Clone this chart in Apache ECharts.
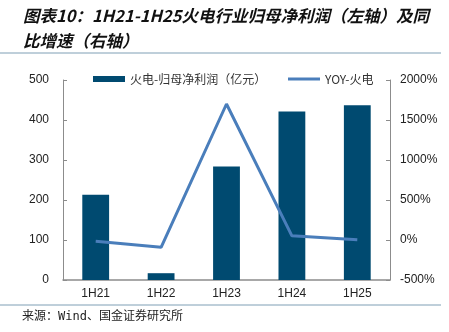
<!DOCTYPE html>
<html>
<head>
<meta charset="utf-8">
<script src="https://cdn.jsdelivr.net/npm/echarts@6/dist/echarts.min.js"></script>
<style>html,body{margin:0;padding:0;background:#fff;}#c{width:449px;height:332px;}</style>
</head>
<body>
<div id="c"></div>
<script>
const categories = ['1H21', '1H22', '1H23', '1H24', '1H25'];
const profitValues = [213, 17, 284, 421, 437];
const yoyValues = [-15, -92, 1700, 52, 4];
const leftTicks = [0, 100, 200, 300, 400, 500];
const rightTicks = [-500, 0, 500, 1000, 1500, 2000];
const seriesNames = ['火电-归母净利润（亿元）', 'YOY-火电'];
const titleLines = ['图表10：1H21-1H25火电行业归母净利润（左轴）及同', '比增速（右轴）'];
const sourceText = '来源：Wind、国金证券研究所';

const chart = echarts.init(document.getElementById('c'));
const cjk = '"Noto Sans CJK SC", sans-serif';
const axisColor = '#8c8c8c';
const legendText = { fontFamily: cjk, fontSize: 12, color: '#333' };
chart.setOption({
  animation: false,
  grid: { left: 63, right: 59, top: 80, bottom: 52 },
  legend: [
    {
      data: [{ name: seriesNames[0], icon: 'rect' }],
      left: 93, top: 73, padding: 0, itemWidth: 32, itemHeight: 6, itemGap: 4,
      textStyle: legendText
    },
    {
      data: [{ name: seriesNames[1], icon: 'rect' }],
      left: 288, top: 73, padding: 0, itemWidth: 32, itemHeight: 3, itemGap: 4,
      textStyle: legendText
    }
  ],
  xAxis: {
    type: 'category', data: categories,
    axisLine: { lineStyle: { color: axisColor, width: 1.5 } },
    axisTick: { inside: true, length: 4, lineStyle: { color: axisColor } },
    axisLabel: { color: '#222', fontFamily: 'Arial, "Liberation Sans", sans-serif', fontSize: 12, margin: 8 }
  },
  yAxis: [
    {
      type: 'value', min: leftTicks[0], max: leftTicks[leftTicks.length - 1], interval: 100,
      axisLine: { show: true, lineStyle: { color: axisColor } },
      axisTick: { show: true, inside: true, length: 4, lineStyle: { color: axisColor } },
      splitLine: { show: false },
      axisLabel: { color: '#222', fontFamily: 'Arial, "Liberation Sans", sans-serif', fontSize: 12, margin: 14 }
    },
    {
      type: 'value', min: rightTicks[0], max: rightTicks[rightTicks.length - 1], interval: 500,
      axisLine: { show: true, lineStyle: { color: axisColor } },
      axisTick: { show: true, inside: true, length: 4, lineStyle: { color: axisColor } },
      splitLine: { show: false },
      axisLabel: { color: '#222', fontFamily: 'Arial, "Liberation Sans", sans-serif', fontSize: 12, margin: 10, formatter: function (v) { return String(v) + '%'; } }
    }
  ],
  series: [
    {
      name: seriesNames[0], type: 'bar', data: profitValues, yAxisIndex: 0,
      barWidth: '41%', itemStyle: { color: '#004a70' }
    },
    {
      name: seriesNames[1], type: 'line', data: yoyValues, yAxisIndex: 1,
      symbol: 'none', lineStyle: { color: '#4a7ebb', width: 3 }, itemStyle: { color: '#4a7ebb' }
    }
  ],
  graphic: [
    { type: 'text', left: 23, top: 7, style: { text: titleLines[0], font: 'italic bold 16.5px "Noto Sans CJK SC", sans-serif', fill: '#111' } },
    { type: 'text', left: 23, top: 32, style: { text: titleLines[1], font: 'italic bold 16.5px "Noto Sans CJK SC", sans-serif', fill: '#111' } },
    { type: 'line', shape: { x1: 0, y1: 53, x2: 441, y2: 53 }, style: { stroke: '#7f9fb5', lineWidth: 1 } },
    { type: 'line', shape: { x1: 0, y1: 305, x2: 441, y2: 305 }, style: { stroke: '#7f9fb5', lineWidth: 1 } },
    { type: 'text', left: 22, top: 311, style: { text: sourceText, font: '12px "DejaVu Sans Mono", "Noto Sans CJK SC", monospace', fill: '#222' } }
  ]
});
</script>
</body>
</html>
